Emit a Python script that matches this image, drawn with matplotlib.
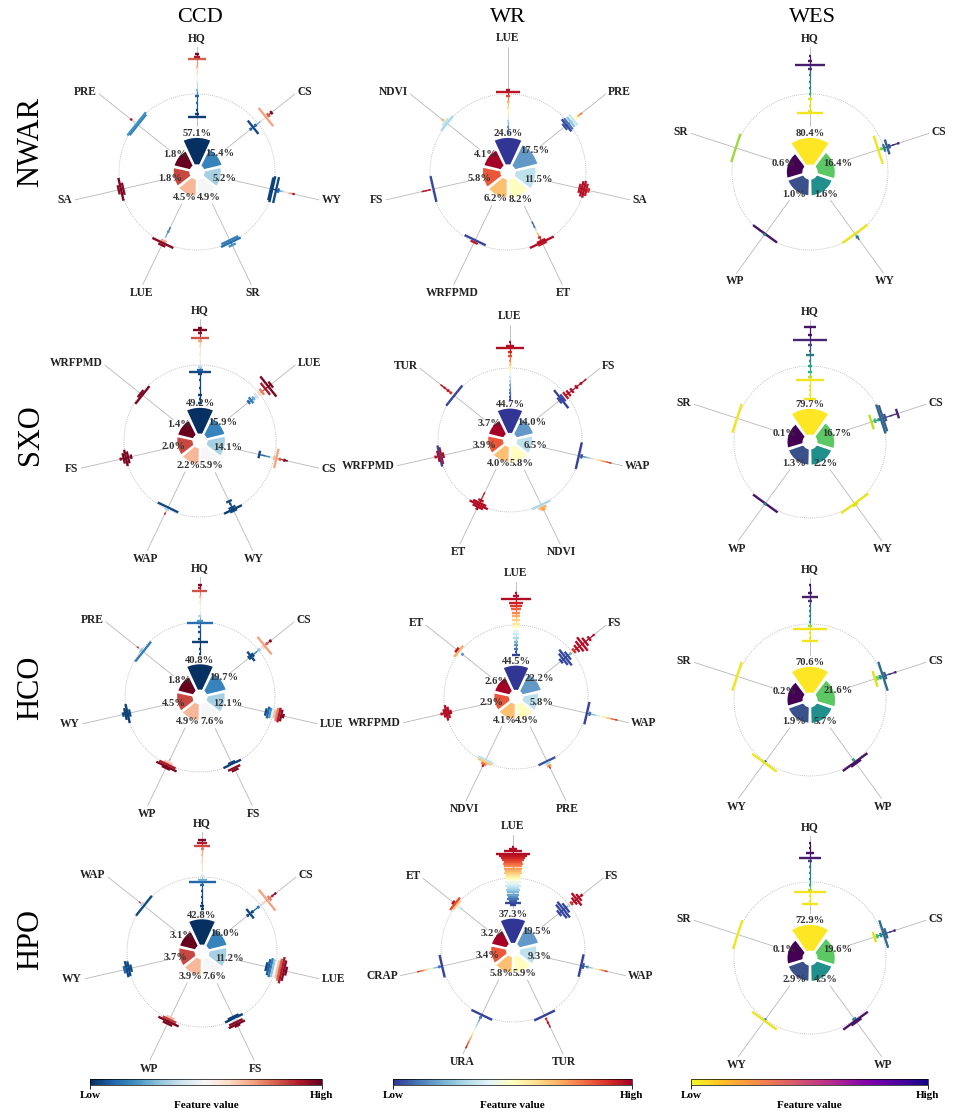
import numpy as np
import matplotlib
matplotlib.use('Agg')
import matplotlib.pyplot as plt
from matplotlib.patches import Wedge
from matplotlib.collections import LineCollection
from matplotlib.cm import ScalarMappable
from matplotlib.colors import Normalize

plt.rcParams['font.family'] = ['Liberation Serif', 'DejaVu Serif']

regions = ['NWAR', 'SXO', 'HCO', 'HPO']
services = ['CCD', 'WR', 'WES']

# swarm bins per feature: (shap value, number of samples, feature value 0-1)

# ---------------- NWAR ----------------
nwar_ccd_feat = ['HQ', 'CS', 'WY', 'SR', 'LUE', 'SA', 'PRE']
nwar_ccd_pct = [57.1, 15.4, 5.2, 4.9, 4.5, 1.8, 1.8]
nwar_ccd_shap = {
    'HQ': [(-0.29, 22, 0.03), (-0.26, 6, 0.03), (-0.20, 2, 0.05), (-0.12, 2, 0.1), (-0.03, 5, 0.1),
           (0.05, 2, 0.3), (0.15, 2, 0.45), (0.25, 2, 0.55), (0.35, 2, 0.65), (0.45, 22, 0.8),
           (0.48, 8, 0.9), (0.51, 6, 0.97)],
    'CS': [(-0.12, 4, 0.1), (-0.08, 22, 0.05), (-0.04, 4, 0.1), (0.05, 2, 0.4), (0.13, 30, 0.7),
           (0.17, 6, 0.8), (0.22, 5, 0.97)],
    'WY': [(-0.03, 30, 0.05), (-0.01, 34, 0.03), (0.04, 34, 0.05), (0.07, 6, 0.1), (0.12, 2, 0.3),
           (0.2, 2, 0.6), (0.27, 3, 0.9)],
    'SR': [(-0.03, 24, 0.15), (0.0, 28, 0.12), (0.04, 10, 0.2)],
    'LUE': [(-0.2, 2, 0.15), (-0.15, 3, 0.2), (-0.08, 2, 0.3), (-0.02, 8, 0.7), (0.01, 30, 0.95),
            (0.04, 10, 0.95)],
    'SA': [(-0.03, 16, 0.95), (0.0, 30, 0.97), (0.03, 12, 0.95)],
    'PRE': [(-0.03, 34, 0.15), (-0.01, 38, 0.2), (0.02, 4, 0.4), (0.08, 3, 0.9)],
}

nwar_wr_feat = ['LUE', 'PRE', 'SA', 'ET', 'WRFPMD', 'FS', 'NDVI']
nwar_wr_pct = [24.6, 17.5, 11.5, 8.2, 6.2, 5.8, 4.1]
nwar_wr_shap = {
    'LUE': [(-0.5, 2, 0.05), (-0.42, 3, 0.15), (-0.34, 2, 0.3), (-0.26, 2, 0.45), (-0.18, 3, 0.6),
            (-0.1, 3, 0.7), (-0.03, 6, 0.85), (0.02, 32, 0.95), (0.05, 6, 0.97)],
    'PRE': [(-0.07, 10, 0.05), (-0.04, 20, 0.03), (-0.01, 18, 0.1), (0.03, 16, 0.25), (0.07, 18, 0.35),
            (0.11, 6, 0.5), (0.16, 3, 0.7), (0.2, 2, 0.8)],
    'SA': [(-0.06, 12, 0.95), (-0.03, 20, 0.97), (0.0, 22, 0.97), (0.03, 16, 0.95), (0.06, 6, 0.9)],
    'ET': [(-0.28, 2, 0.08), (-0.22, 2, 0.1), (-0.15, 2, 0.5), (-0.07, 4, 0.9), (-0.02, 12, 0.95),
           (0.0, 34, 0.97), (0.02, 12, 0.95)],
    'WRFPMD': [(-0.03, 30, 0.03), (0.0, 10, 0.95)],
    'FS': [(-0.02, 34, 0.03), (0.03, 2, 0.95), (0.08, 2, 0.95), (0.12, 2, 0.95)],
    'NDVI': [(0.0, 24, 0.3), (0.03, 12, 0.35), (0.07, 3, 0.7)],
}

nwar_wes_feat = ['HQ', 'CS', 'WY', 'WP', 'SR']
nwar_wes_pct = [80.4, 16.4, 1.6, 1.0, 0.6]
nwar_wes_shap = {
    'HQ': [(-0.25, 34, 0.02), (-0.22, 4, 0.03), (-0.15, 2, 0.05), (-0.06, 4, 0.05), (0.0, 2, 0.35),
           (0.08, 2, 0.5), (0.16, 2, 0.55), (0.24, 2, 0.6), (0.32, 4, 0.85), (0.37, 38, 0.92),
           (0.42, 4, 0.92), (0.49, 2, 0.9)],
    'CS': [(-0.08, 38, 0.02), (-0.04, 4, 0.2), (0.0, 10, 0.6), (0.04, 20, 0.7), (0.07, 6, 0.75),
           (0.12, 2, 0.85), (0.19, 3, 0.9)],
    'WY': [(-0.02, 40, 0.03), (0.03, 4, 0.6), (0.06, 2, 0.65)],
    'WP': [(-0.02, 38, 0.95), (-0.01, 4, 0.55)],
    'SR': [(0.0, 38, 0.15)],
}

# ---------------- SXO ----------------
sxo_ccd_feat = ['HQ', 'LUE', 'CS', 'WY', 'WAP', 'FS', 'WRFPMD']
sxo_ccd_pct = [49.2, 15.9, 14.1, 5.9, 2.2, 2.0, 1.4]
sxo_ccd_shap = {
    'HQ': [(-0.5, 4, 0.03), (-0.45, 2, 0.03), (-0.39, 5, 0.03), (-0.3, 2, 0.05), (-0.2, 2, 0.05),
           (-0.12, 6, 0.05), (-0.09, 30, 0.05), (-0.07, 8, 0.1), (-0.02, 6, 0.35), (0.06, 2, 0.5),
           (0.15, 2, 0.55), (0.25, 2, 0.6), (0.31, 6, 0.7), (0.36, 24, 0.82), (0.42, 4, 0.95),
           (0.46, 18, 0.97), (0.49, 6, 0.97)],
    'LUE': [(-0.18, 6, 0.1), (-0.14, 10, 0.15), (-0.1, 6, 0.25), (-0.05, 8, 0.4), (0.0, 8, 0.6),
            (0.04, 10, 0.75), (0.1, 20, 0.9), (0.15, 34, 0.97), (0.19, 10, 0.97)],
    'CS': [(-0.2, 10, 0.05), (-0.14, 2, 0.1), (-0.07, 2, 0.2), (0.0, 6, 0.65), (0.03, 26, 0.7),
           (0.08, 4, 0.8), (0.14, 4, 0.95), (0.17, 2, 0.97)],
    'WY': [(-0.12, 8, 0.05), (-0.08, 3, 0.05), (-0.03, 10, 0.05), (0.0, 26, 0.03), (0.02, 10, 0.05)],
    'WAP': [(-0.03, 30, 0.05), (0.0, 6, 0.35), (0.06, 2, 0.9)],
    'FS': [(-0.07, 6, 0.97), (-0.03, 16, 0.97), (0.0, 22, 0.97), (0.03, 14, 0.97), (0.07, 4, 0.95)],
    'WRFPMD': [(-0.03, 30, 0.97), (0.0, 12, 0.97)],
}

sxo_wr_feat = ['LUE', 'FS', 'WAP', 'NDVI', 'ET', 'WRFPMD', 'TUR']
sxo_wr_pct = [44.7, 14.0, 6.5, 5.8, 4.0, 3.9, 3.7]
sxo_wr_shap = {
    'LUE': [(-0.45, 3, 0.02), (-0.4, 4, 0.05), (-0.35, 3, 0.1), (-0.3, 4, 0.15), (-0.24, 4, 0.2),
            (-0.18, 4, 0.3), (-0.12, 4, 0.35), (-0.06, 3, 0.45), (-0.01, 3, 0.55), (0.04, 4, 0.65),
            (0.1, 4, 0.75), (0.16, 5, 0.85), (0.22, 6, 0.92), (0.28, 40, 0.97), (0.31, 10, 0.97),
            (0.36, 3, 0.97)],
    'FS': [(-0.12, 10, 0.03), (-0.09, 32, 0.02), (-0.06, 12, 0.03), (-0.01, 12, 0.95), (0.04, 10, 0.97),
           (0.1, 8, 0.97), (0.18, 6, 0.97), (0.26, 4, 0.97), (0.34, 2, 0.97)],
    'WAP': [(-0.02, 38, 0.02), (0.02, 6, 0.05), (0.08, 2, 0.2), (0.16, 2, 0.35), (0.24, 2, 0.55),
            (0.32, 2, 0.7), (0.38, 2, 0.8), (0.43, 2, 0.9)],
    'NDVI': [(0.0, 28, 0.3), (0.04, 12, 0.7), (0.07, 6, 0.72)],
    'ET': [(-0.18, 2, 0.9), (-0.07, 8, 0.97), (-0.03, 20, 0.97), (0.0, 28, 0.97), (0.03, 16, 0.97),
           (0.06, 4, 0.97)],
    'WRFPMD': [(-0.05, 8, 0.97), (-0.02, 24, 0.97), (0.0, 30, 0.03), (0.02, 16, 0.97), (0.06, 4, 0.97)],
    'TUR': [(-0.01, 36, 0.03), (0.05, 4, 0.9), (0.1, 4, 0.95), (0.16, 3, 0.95), (0.22, 2, 0.95)],
}

sxo_wes_feat = ['HQ', 'CS', 'WY', 'WP', 'SR']
sxo_wes_pct = [79.7, 16.7, 2.2, 1.3, 0.1]
sxo_wes_shap = {
    'HQ': [(-0.43, 16, 0.02), (-0.38, 2, 0.03), (-0.32, 2, 0.03), (-0.26, 2, 0.03), (-0.19, 36, 0.02),
           (-0.15, 4, 0.1), (-0.08, 4, 0.35), (0.0, 6, 0.4), (0.07, 2, 0.5), (0.14, 10, 0.6),
           (0.2, 2, 0.7), (0.27, 4, 0.8), (0.34, 46, 0.9), (0.41, 6, 0.95), (0.51, 16, 0.95)],
    'CS': [(-0.15, 20, 0.1), (-0.1, 6, 0.35), (-0.05, 4, 0.5), (-0.02, 40, 0.68), (0.01, 36, 0.7),
           (0.04, 10, 0.75), (0.12, 2, 0.85), (0.21, 13, 0.9)],
    'WY': [(0.0, 44, 0.03), (0.02, 8, 0.05)],
    'WP': [(0.0, 40, 0.95), (0.01, 4, 0.5)],
    'SR': [(0.01, 40, 0.02)],
}

# ---------------- HCO ----------------
hco_ccd_feat = ['HQ', 'CS', 'LUE', 'FS', 'WP', 'WY', 'PRE']
hco_ccd_pct = [40.8, 19.7, 12.1, 7.6, 4.9, 4.5, 1.8]
hco_ccd_shap = {
    'HQ': [(-0.42, 2, 0.03), (-0.36, 3, 0.03), (-0.27, 22, 0.03), (-0.22, 4, 0.05), (-0.13, 4, 0.05),
           (-0.06, 4, 0.1), (-0.01, 34, 0.12), (0.02, 8, 0.2), (0.08, 4, 0.35), (0.16, 2, 0.5),
           (0.25, 2, 0.55), (0.33, 2, 0.65), (0.41, 20, 0.82), (0.45, 4, 0.9), (0.49, 5, 0.97)],
    'CS': [(-0.16, 6, 0.05), (-0.13, 16, 0.05), (-0.1, 6, 0.05), (-0.04, 2, 0.2), (0.01, 4, 0.3),
           (0.07, 6, 0.6), (0.1, 30, 0.7), (0.14, 4, 0.8), (0.2, 4, 0.97)],
    'LUE': [(-0.1, 10, 0.05), (-0.07, 16, 0.1), (-0.04, 14, 0.2), (-0.01, 8, 0.45), (0.02, 12, 0.65),
            (0.05, 18, 0.75), (0.08, 20, 0.9), (0.11, 16, 0.95), (0.14, 6, 0.97)],
    'FS': [(-0.03, 10, 0.03), (-0.01, 26, 0.03), (0.02, 10, 0.5), (0.05, 18, 0.95), (0.08, 10, 0.97)],
    'WP': [(-0.07, 2, 0.3), (-0.03, 12, 0.65), (0.0, 24, 0.9), (0.03, 30, 0.97), (0.05, 12, 0.97)],
    'WY': [(-0.04, 10, 0.05), (-0.01, 26, 0.03), (0.02, 16, 0.03), (0.05, 6, 0.05)],
    'PRE': [(-0.03, 34, 0.15), (0.0, 6, 0.3), (0.06, 2, 0.85)],
}

hco_wr_feat = ['LUE', 'FS', 'WAP', 'PRE', 'NDVI', 'WRFPMD', 'ET']
hco_wr_pct = [44.5, 22.2, 5.8, 4.9, 4.1, 2.9, 2.6]
hco_wr_shap = {
    'LUE': [(-0.42, 10, 0.02), (-0.38, 4, 0.05), (-0.33, 6, 0.1), (-0.28, 6, 0.15), (-0.23, 6, 0.22),
            (-0.18, 8, 0.3), (-0.13, 8, 0.36), (-0.08, 8, 0.42), (-0.03, 10, 0.5), (0.02, 10, 0.57),
            (0.07, 10, 0.63), (0.12, 12, 0.7), (0.17, 12, 0.76), (0.22, 14, 0.82), (0.27, 18, 0.88),
            (0.31, 20, 0.93), (0.36, 42, 0.97), (0.4, 8, 0.97), (0.45, 3, 0.97)],
    'FS': [(-0.2, 8, 0.03), (-0.16, 20, 0.03), (-0.12, 28, 0.03), (-0.08, 14, 0.03), (-0.03, 4, 0.2),
           (0.03, 8, 0.9), (0.08, 12, 0.97), (0.13, 18, 0.97), (0.18, 24, 0.97), (0.23, 14, 0.97),
           (0.3, 8, 0.97), (0.38, 3, 0.97)],
    'WAP': [(0.01, 32, 0.02), (0.05, 6, 0.1), (0.12, 3, 0.3), (0.2, 2, 0.45), (0.28, 2, 0.6),
            (0.36, 2, 0.75), (0.43, 2, 0.9)],
    'PRE': [(-0.01, 26, 0.05), (0.02, 8, 0.3), (0.06, 6, 0.75), (0.09, 2, 0.9)],
    'NDVI': [(-0.03, 24, 0.33), (0.0, 20, 0.65), (0.03, 8, 0.8), (0.06, 3, 0.95)],
    'WRFPMD': [(-0.07, 6, 0.97), (-0.04, 16, 0.97), (-0.01, 22, 0.97), (0.02, 12, 0.97), (0.06, 4, 0.97)],
    'ET': [(-0.05, 4, 0.15), (-0.01, 6, 0.4), (0.02, 20, 0.7), (0.05, 8, 0.95)],
}

hco_wes_feat = ['HQ', 'CS', 'WP', 'WY', 'SR']
hco_wes_pct = [70.6, 21.6, 5.7, 1.9, 0.2]
hco_wes_shap = {
    'HQ': [(-0.22, 22, 0.02), (-0.18, 2, 0.03), (-0.12, 2, 0.03), (-0.06, 44, 0.02), (-0.03, 6, 0.15),
           (0.03, 2, 0.4), (0.1, 2, 0.5), (0.17, 2, 0.55), (0.24, 2, 0.65), (0.3, 4, 0.85),
           (0.35, 20, 0.92), (0.41, 4, 0.95), (0.51, 2, 0.95)],
    'CS': [(-0.1, 22, 0.05), (-0.07, 6, 0.2), (-0.03, 6, 0.5), (0.01, 40, 0.65), (0.04, 10, 0.7),
           (0.1, 2, 0.8), (0.18, 3, 0.9)],
    'WP': [(-0.03, 4, 0.4), (0.01, 40, 0.95), (0.03, 16, 0.95)],
    'WY': [(0.0, 3, 0.6), (0.02, 40, 0.03)],
    'SR': [(0.01, 40, 0.02)],
}

# ---------------- HPO ----------------
hpo_ccd_feat = ['HQ', 'CS', 'LUE', 'FS', 'WP', 'WY', 'WAP']
hpo_ccd_pct = [42.8, 16.0, 11.2, 7.6, 3.9, 3.7, 3.1]
hpo_ccd_shap = {
    'HQ': [(-0.42, 4, 0.03), (-0.39, 6, 0.03), (-0.34, 3, 0.03), (-0.26, 3, 0.05), (-0.18, 3, 0.05),
           (-0.11, 6, 0.1), (-0.07, 36, 0.1), (-0.04, 12, 0.25), (0.02, 4, 0.4), (0.1, 2, 0.55),
           (0.2, 2, 0.6), (0.3, 2, 0.65), (0.37, 4, 0.75), (0.42, 22, 0.83), (0.46, 14, 0.9),
           (0.49, 10, 0.97)],
    'CS': [(-0.22, 4, 0.05), (-0.18, 16, 0.05), (-0.14, 4, 0.05), (-0.04, 4, 0.15), (0.05, 4, 0.6),
           (0.11, 36, 0.7), (0.15, 8, 0.75), (0.2, 3, 0.9), (0.25, 3, 0.97)],
    'LUE': [(-0.12, 12, 0.05), (-0.09, 22, 0.08), (-0.06, 26, 0.15), (-0.03, 24, 0.3), (0.0, 22, 0.5),
            (0.03, 24, 0.65), (0.06, 30, 0.8), (0.09, 36, 0.9), (0.12, 28, 0.95), (0.15, 12, 0.97)],
    'FS': [(-0.04, 16, 0.03), (-0.02, 26, 0.03), (0.01, 8, 0.4), (0.04, 20, 0.95), (0.07, 24, 0.97),
           (0.09, 8, 0.97)],
    'WP': [(-0.03, 12, 0.65), (0.0, 20, 0.85), (0.03, 30, 0.97), (0.06, 14, 0.97)],
    'WY': [(-0.03, 10, 0.05), (0.0, 20, 0.05), (0.03, 22, 0.05), (0.06, 10, 0.1)],
    'WAP': [(-0.01, 34, 0.05), (0.02, 6, 0.35), (0.06, 2, 0.85)],
}

hpo_wr_feat = ['LUE', 'FS', 'WAP', 'TUR', 'URA', 'CRAP', 'ET']
hpo_wr_pct = [37.3, 19.5, 9.3, 5.9, 5.8, 3.4, 3.2]
hpo_wr_shap = {
    'LUE': [(-0.38, 8, 0.02), (-0.35, 22, 0.03), (-0.32, 12, 0.06), (-0.29, 18, 0.1), (-0.26, 14, 0.14),
            (-0.23, 18, 0.18), (-0.2, 16, 0.22), (-0.17, 20, 0.27), (-0.14, 18, 0.32), (-0.11, 22, 0.36),
            (-0.08, 18, 0.4), (-0.05, 22, 0.44), (-0.02, 20, 0.5), (0.01, 22, 0.55), (0.04, 20, 0.6),
            (0.07, 24, 0.64), (0.1, 22, 0.68), (0.13, 26, 0.72), (0.16, 24, 0.76), (0.19, 28, 0.8),
            (0.22, 26, 0.84), (0.25, 30, 0.88), (0.28, 32, 0.92), (0.31, 40, 0.95), (0.34, 46, 0.97),
            (0.37, 24, 0.97), (0.4, 10, 0.97), (0.43, 4, 0.97)],
    'FS': [(-0.18, 10, 0.03), (-0.14, 24, 0.03), (-0.1, 28, 0.03), (-0.06, 16, 0.03), (-0.01, 4, 0.3),
           (0.04, 6, 0.9), (0.09, 12, 0.97), (0.13, 22, 0.97), (0.17, 12, 0.97), (0.22, 4, 0.97)],
    'WAP': [(-0.03, 32, 0.02), (0.0, 8, 0.05), (0.06, 4, 0.15), (0.13, 2, 0.35), (0.2, 2, 0.55),
            (0.27, 2, 0.75), (0.33, 2, 0.9)],
    'TUR': [(0.01, 32, 0.02), (0.06, 3, 0.9), (0.12, 3, 0.95), (0.18, 2, 0.97)],
    'URA': [(0.0, 32, 0.02), (0.04, 4, 0.1), (0.1, 2, 0.25), (0.18, 2, 0.35), (0.26, 2, 0.5),
            (0.34, 2, 0.65), (0.42, 2, 0.8), (0.5, 2, 0.95)],
    'CRAP': [(0.01, 32, 0.02), (0.05, 4, 0.1), (0.12, 2, 0.3), (0.2, 2, 0.55), (0.28, 2, 0.75),
             (0.35, 2, 0.9)],
    'ET': [(-0.08, 4, 0.35), (-0.04, 6, 0.4), (0.0, 16, 0.65), (0.03, 22, 0.85), (0.06, 6, 0.95)],
}

hpo_wes_feat = ['HQ', 'CS', 'WP', 'WY', 'SR']
hpo_wes_pct = [72.9, 19.6, 4.5, 2.9, 0.1]
hpo_wes_shap = {
    'HQ': [(-0.29, 20, 0.02), (-0.25, 2, 0.03), (-0.19, 2, 0.03), (-0.13, 42, 0.02), (-0.1, 6, 0.1),
           (-0.04, 2, 0.4), (0.04, 2, 0.5), (0.12, 2, 0.55), (0.2, 2, 0.6), (0.27, 4, 0.8),
           (0.32, 28, 0.92), (0.38, 10, 0.95), (0.45, 2, 0.95), (0.51, 3, 0.95)],
    'CS': [(-0.11, 14, 0.05), (-0.07, 6, 0.3), (-0.02, 6, 0.55), (0.02, 38, 0.65), (0.05, 14, 0.7),
           (0.11, 2, 0.8), (0.17, 3, 0.92)],
    'WP': [(-0.01, 6, 0.55), (0.02, 40, 0.95), (0.04, 16, 0.95)],
    'WY': [(0.0, 3, 0.6), (0.02, 40, 0.03)],
    'SR': [(0.0, 40, 0.02)],
}

panels = [
    [(nwar_ccd_feat, nwar_ccd_pct, nwar_ccd_shap), (nwar_wr_feat, nwar_wr_pct, nwar_wr_shap),
     (nwar_wes_feat, nwar_wes_pct, nwar_wes_shap)],
    [(sxo_ccd_feat, sxo_ccd_pct, sxo_ccd_shap), (sxo_wr_feat, sxo_wr_pct, sxo_wr_shap),
     (sxo_wes_feat, sxo_wes_pct, sxo_wes_shap)],
    [(hco_ccd_feat, hco_ccd_pct, hco_ccd_shap), (hco_wr_feat, hco_wr_pct, hco_wr_shap),
     (hco_wes_feat, hco_wes_pct, hco_wes_shap)],
    [(hpo_ccd_feat, hpo_ccd_pct, hpo_ccd_shap), (hpo_wr_feat, hpo_wr_pct, hpo_wr_shap),
     (hpo_wes_feat, hpo_wes_pct, hpo_wes_shap)],
]

bar_cmaps = [plt.get_cmap('RdBu_r'), plt.get_cmap('RdYlBu_r'), plt.get_cmap('viridis_r')]
pt_cmaps = [plt.get_cmap('RdBu_r'), plt.get_cmap('RdYlBu_r'), plt.get_cmap('viridis_r')]
cbar_cmaps = ['RdBu_r', 'RdYlBu_r', 'plasma_r']


def draw_panel(ax, feats, pcts, shap, bar_cmap, pt_cmap):
    n = len(feats)
    step = 2 * np.pi / n
    angles = np.pi / 2 - step * np.arange(n)
    vmax = max(pcts)
    bar_cols = bar_cmap(np.linspace(0, 1, n))

    t = np.linspace(0, 2 * np.pi, 400)
    ax.plot(np.cos(t), np.sin(t), ls=(0, (1, 1.5)), color='#b0b0b0', lw=0.6, zorder=1)

    for i, (f, v) in enumerate(zip(feats, pcts)):
        a = angles[i]
        ux, uy = np.cos(a), np.sin(a)
        px, py = -uy, ux
        r_out = 0.31 + 0.14 * (v / vmax) ** 1.2
        half = np.degrees(step) * 0.48
        ax.add_patch(Wedge((0, 0), r_out, np.degrees(a) - half, np.degrees(a) + half,
                           width=r_out - 0.085, facecolor=bar_cols[i], edgecolor='white',
                           lw=1.5, zorder=2))
        r_lab = r_out + 0.04
        ax.text(r_lab * ux, r_lab * uy, '%.1f%%' % v, ha='center', va='center',
                fontsize=7.6, fontweight='bold', color='#333333', zorder=3)
        ax.plot([(r_lab + 0.1) * ux, 1.6 * ux], [(r_lab + 0.1) * uy, 1.6 * uy],
                color='#b8b8b8', lw=0.6, zorder=1)

        ha = 'center' if abs(ux) < 0.65 else ('left' if ux > 0 else 'right')
        va = 'center'
        if uy > 0.8:
            va = 'bottom'
        elif uy < -0.8:
            va = 'top'
        ax.text(1.64 * ux, 1.64 * uy, f, ha=ha, va=va, fontsize=8.3, fontweight='bold',
                color='#222222', zorder=3)

        bins = sorted(shap[f], key=lambda b: b[0])
        segs, cols = [], []
        for s, cnt, fv in bins:
            r = 1 + s
            h = cnt * 0.005
            segs.append([(r * ux - h * px, r * uy - h * py), (r * ux + h * px, r * uy + h * py)])
            cols.append(pt_cmap(fv))
        spine, scol = [], []
        for b0, b1 in zip(bins[:-1], bins[1:]):
            spine.append([((1 + b0[0]) * ux, (1 + b0[0]) * uy), ((1 + b1[0]) * ux, (1 + b1[0]) * uy)])
            scol.append(pt_cmap((b0[2] + b1[2]) / 2))
        ax.add_collection(LineCollection(spine, colors=scol, linewidths=0.9, zorder=4))
        ax.add_collection(LineCollection(segs, colors=cols, linewidths=1.7,
                                         capstyle='butt', zorder=4))


fig = plt.figure(figsize=(9.57, 11.16), dpi=100)
W, H = 957.0, 1116.0

# panel centres and circle radius in pixels, [row][col]
centres = [
    [(197, 172), (508, 172), (810, 172)],
    [(200, 441), (510, 440), (810, 442)],
    [(200, 697), (516, 697), (810, 700)],
    [(202, 952), (513, 950), (810, 958)],
]
radii = [
    [78, 78, 78],
    [76, 72, 76],
    [75, 72, 76],
    [75, 72, 76],
]
L = 1.95

for i in range(4):
    for j in range(3):
        cx, cy = centres[i][j]
        R = radii[i][j]
        size = 2 * L * R
        ax = fig.add_axes([(cx - size / 2) / W, 1 - (cy + size / 2) / H, size / W, size / H])
        ax.set_xlim(-L, L)
        ax.set_ylim(-L, L)
        ax.axis('off')
        ax.patch.set_alpha(0)
        feats, pcts, shap = panels[i][j]
        draw_panel(ax, feats, pcts, shap, bar_cmaps[j], pt_cmaps[j])

title_x = [200, 508, 812]
for j, name in enumerate(services):
    fig.text(title_x[j] / W, 1 - 17 / H, name, ha='center', va='center', fontsize=16)

row_lab_y = [142, 435, 688, 940]
for i, name in enumerate(regions):
    fig.text(31 / W, 1 - row_lab_y[i] / H, name, ha='center', va='center', fontsize=22, rotation=90)

cbar_x = [(90, 322), (393, 632), (691, 928)]
for j in range(3):
    x0, x1 = cbar_x[j]
    cax = fig.add_axes([x0 / W, 1 - 1085 / H, (x1 - x0) / W, 6 / H])
    sm = ScalarMappable(norm=Normalize(0, 1), cmap=cbar_cmaps[j])
    cb = fig.colorbar(sm, cax=cax, orientation='horizontal', ticks=[0, 1])
    cb.ax.set_xticklabels(['Low', 'High'], fontsize=8, fontweight='bold')
    cb.ax.tick_params(length=3, width=0.6, pad=1)
    cb.outline.set_linewidth(0.5)
    cb.set_label('Feature value', fontsize=8, fontweight='bold', labelpad=1)

fig.savefig('out.png', dpi=100)
